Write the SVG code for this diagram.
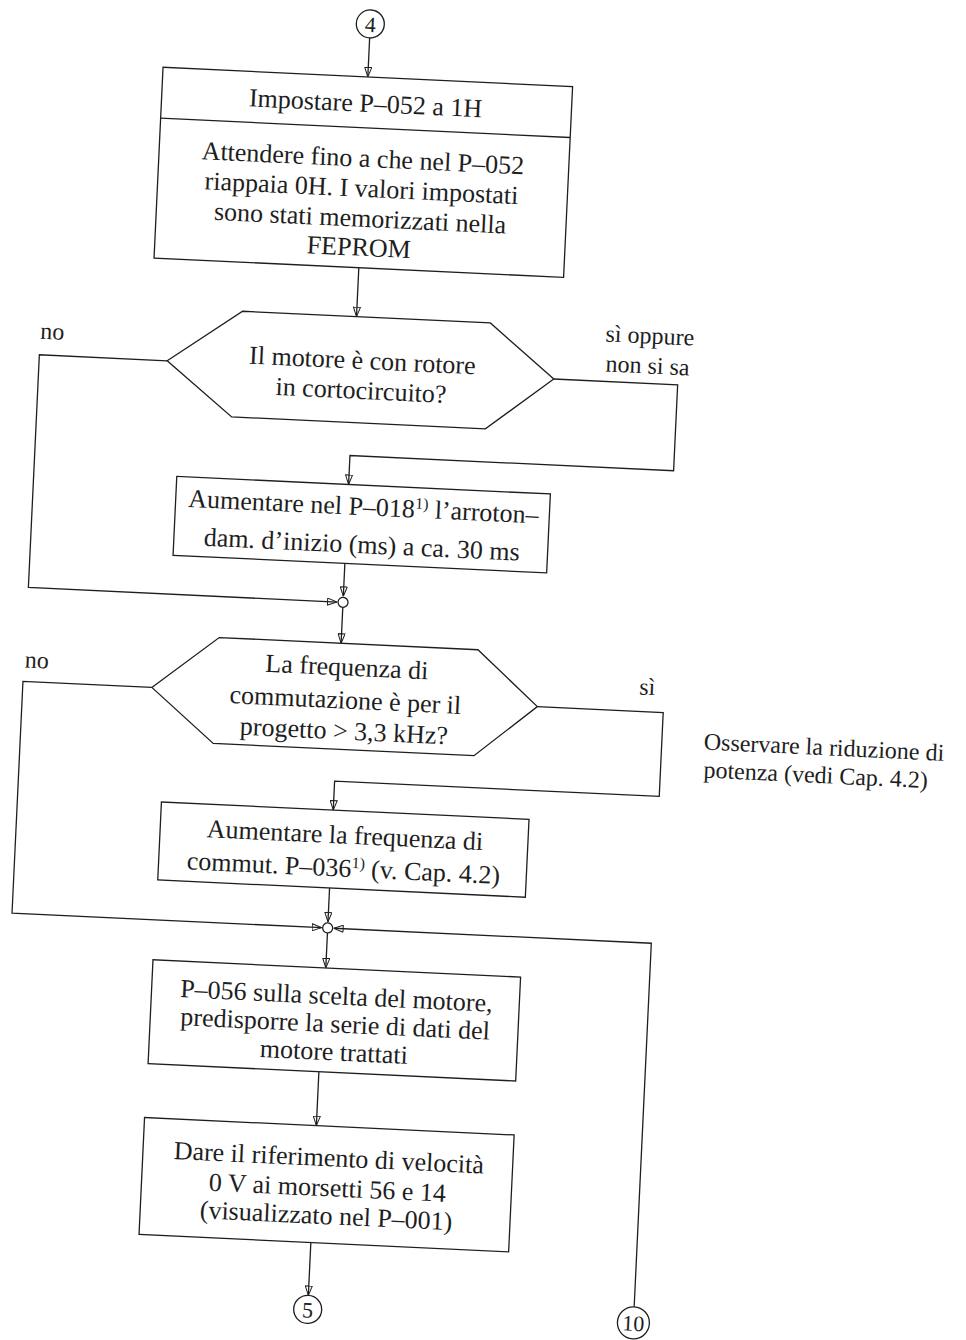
<svg xmlns="http://www.w3.org/2000/svg" width="966" height="1340" viewBox="0 0 966 1340">
<style>
  .s{fill:none;stroke:#1e1e1e;stroke-width:1.3}
  .b{fill:#fff;stroke:#1e1e1e;stroke-width:1.3}
  .t{font-family:"Liberation Serif","Times New Roman",serif;font-size:26px;fill:#1e1e1e;text-anchor:middle}
  .l{font-family:"Liberation Serif","Times New Roman",serif;font-size:24px;fill:#1e1e1e}
  .m{text-anchor:middle}
  .c{font-family:"Liberation Serif","Times New Roman",serif;font-size:22px;fill:#1e1e1e;text-anchor:middle}
  .sup{font-size:16px}
</style>
<defs>
  <marker id="ah" viewBox="0 0 10 8" refX="10" refY="4" markerWidth="10" markerHeight="8" markerUnits="userSpaceOnUse" orient="auto">
    <path d="M0.5,0.5 L10,4 L0.5,7.5 Z" fill="none" stroke="#1e1e1e" stroke-width="1"/>
  </marker>
</defs>
<rect width="966" height="1340" fill="#fff"/>
<g transform="rotate(2.7 483 670)">
  <g id="connectors" class="s">
    <path d="M340,44 V83" marker-end="url(#ah)"/>
    <path d="M340,274 V323" marker-end="url(#ah)"/>
    <path d="M153,376 H25 V609 H334" marker-end="url(#ah)"/>
    <path d="M540,376 H664 V462 H340 V491" marker-end="url(#ah)"/>
    <path d="M340,570 V603" marker-end="url(#ah)"/>
    <path d="M340,614 V650" marker-end="url(#ah)"/>
    <path d="M153,703 H24 V935 H334" marker-end="url(#ah)"/>
    <path d="M539,704 H665 V788 H340 V817" marker-end="url(#ah)"/>
    <path d="M340,895 V929" marker-end="url(#ah)"/>
    <path d="M664,1299 V935 H346" marker-end="url(#ah)"/>
    <path d="M340,940 V975" marker-end="url(#ah)"/>
    <path d="M338,1079 V1133" marker-end="url(#ah)"/>
    <path d="M338,1250 V1303" marker-end="url(#ah)"/>
  </g>

  <g id="conn4">
    <circle class="b" cx="340" cy="30" r="14"/>
    <text class="c" x="340" y="38">4</text>
  </g>

  <g id="box1">
    <rect class="b" x="135" y="83" width="410" height="191"/>
    <line class="s" x1="135" y1="134" x2="545" y2="134"/>
    <text class="t" x="339" y="118">Impostare P–052 a 1H</text>
    <text class="t" x="339" y="173">Attendere fino a che nel P–052</text>
    <text class="t" x="339" y="203">riappaia 0H. I valori impostati</text>
    <text class="t" x="339" y="233">sono stati memorizzati nella</text>
    <text class="t" x="339" y="262">FEPROM</text>
  </g>

  <g id="dec1">
    <polygon class="b" points="153,376 226,323 474,323 540,376 474,429 220,429"/>
    <text class="t" x="348" y="375">Il motore è con rotore</text>
    <text class="t" x="348" y="405">in cortocircuito?</text>
  </g>
  <text class="l m" x="37" y="360">no</text>
  <text class="l m" x="634" y="336">sì oppure</text>
  <text class="l m" x="633" y="366">non si sa</text>

  <g id="box2">
    <rect class="b" x="168" y="491" width="374" height="79"/>
    <text class="t" x="356" y="521">Aumentare nel P–018<tspan class="sup" dy="-9">1)</tspan><tspan dy="9"> l’arroton–</tspan></text>
    <text class="t" x="356" y="559">dam. d’inizio (ms) a ca. 30 ms</text>
  </g>

  <g id="junction1">
    <circle class="b" cx="340" cy="609" r="5"/>
  </g>

  <g id="dec2">
    <polygon class="b" points="153,703 218,650 477,650 539,704 478,756 217,756"/>
    <text class="t" x="347" y="682">La frequenza di</text>
    <text class="t" x="347" y="715">commutazione è per il</text>
    <text class="t" x="347" y="746">progetto &gt; 3,3 kHz?</text>
  </g>
  <text class="l m" x="37" y="689">no</text>
  <text class="l m" x="648" y="687">sì</text>
  <g id="note">
    <text class="l" x="707" y="739">Osservare la riduzione di</text>
    <text class="l" x="708" y="767">potenza (vedi Cap. 4.2)</text>
  </g>

  <g id="box3">
    <rect class="b" x="168" y="817" width="368" height="78"/>
    <text class="t" x="353" y="850">Aumentare la frequenza di</text>
    <text class="t" x="353" y="883">commut. P–036<tspan class="sup" dy="-9">1)</tspan><tspan dy="9"> (v. Cap. 4.2)</tspan></text>
  </g>

  <g id="junction2">
    <circle class="b" cx="340" cy="935" r="5"/>
  </g>

  <g id="box4">
    <rect class="b" x="167" y="975" width="368" height="104"/>
    <text class="t" x="352" y="1011">P–056 sulla scelta del motore,</text>
    <text class="t" x="352" y="1039">predisporre la serie di dati del</text>
    <text class="t" x="352" y="1067">motore trattati</text>
  </g>

  <g id="box5">
    <rect class="b" x="166" y="1133" width="370" height="117"/>
    <text class="t" x="352" y="1173">Dare il riferimento di velocità</text>
    <text class="t" x="352" y="1203">0 V ai morsetti 56 e 14</text>
    <text class="t" x="352" y="1231">(visualizzato nel P–001)</text>
  </g>

  <g id="conn5">
    <circle class="b" cx="338" cy="1317" r="14"/>
    <text class="c" x="338" y="1325">5</text>
  </g>

  <g id="conn10">
    <circle class="b" cx="664" cy="1315" r="16"/>
    <text class="c" x="664" y="1323">10</text>
  </g>
</g>
</svg>
